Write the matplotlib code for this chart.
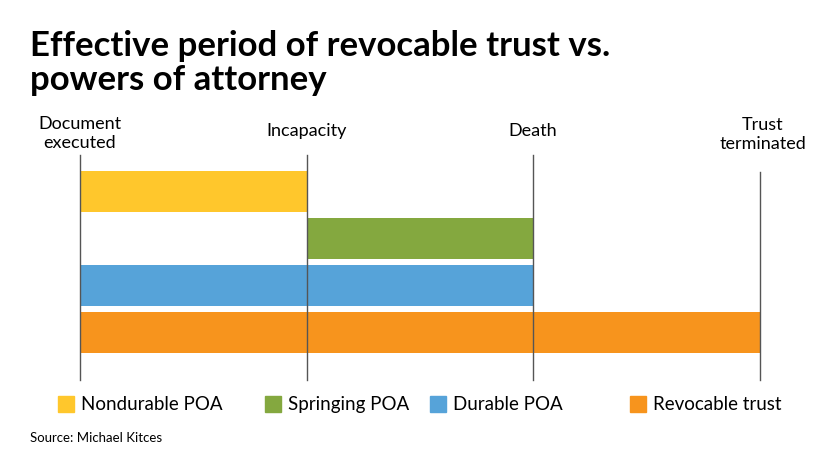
import matplotlib
matplotlib.use("Agg")
import matplotlib.pyplot as plt
from matplotlib.patches import Rectangle

plt.rcParams["font.family"] = "Lato"

milestones = ["Document\nexecuted", "Incapacity", "Death", "Trust\nterminated"]
series = ["Nondurable POA", "Springing POA", "Durable POA", "Revocable trust"]
starts = [0, 1, 0, 0]
ends = [1, 2, 2, 3]
colors = ["#FFC72C", "#84A83F", "#56A3D9", "#F7941D"]

W, H = 840, 473
fig = plt.figure(figsize=(W/100, H/100), dpi=100)
ax = fig.add_axes([80/W, (H-380)/H, 680/W, 225/H])
ax.set_xlim(0, 3)
ax.set_ylim(4.01, -0.777)
ax.axis("off")

for i, (s, e, c) in enumerate(zip(starts, ends, colors)):
    ax.barh(i, e - s, left=s, height=0.872, color=c, zorder=2)

tops = [-0.777, -0.777, -0.777, -0.415]
for m, t in zip(range(len(milestones)), tops):
    ax.plot([m, m], [4.01, t], color="#555555", lw=1, zorder=3, clip_on=False)

fig.text(30/W, 1-63/H, "Effective period of revocable trust vs.\npowers of attorney",
         fontsize=25, fontweight="bold", va="center", ha="left", linespacing=1.1)

fig.text(80/W, 1-151/H, milestones[0], ha="center", va="bottom", fontsize=13, linespacing=1.2)
fig.text(307/W, 1-131/H, milestones[1], ha="center", va="center", fontsize=13)
fig.text(533/W, 1-131/H, milestones[2], ha="center", va="center", fontsize=13)
fig.text(806/W, 1-152/H, milestones[3], ha="right", va="bottom", fontsize=13,
         linespacing=1.2, multialignment="center")

leg_x = [58, 265, 430, 630]
for x, lab, c in zip(leg_x, series, colors):
    fig.patches.append(Rectangle((x/W, 1-412/H), 16/W, 16/H, color=c, transform=fig.transFigure))
    fig.text((x+23)/W, 1-404/H, lab, ha="left", va="center", fontsize=13.5)

fig.text(30/W, 1-438/H, "Source: Michael Kitces", ha="left", va="center", fontsize=9.5)
fig.savefig("out.png", dpi=100)
